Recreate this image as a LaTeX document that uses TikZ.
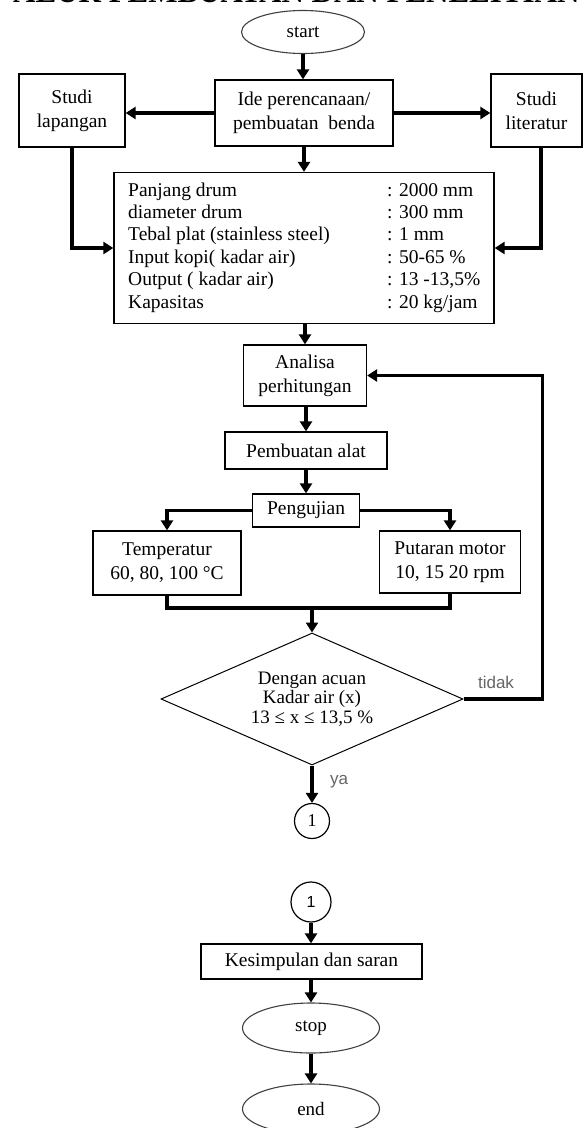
\documentclass[tikz,border=0pt]{standalone}
\usepackage{fontspec}
\setmainfont{Liberation Serif}
\newfontfamily\sansf{Liberation Sans}
\usetikzlibrary{arrows.meta,shapes.geometric,calc}
\begin{document}
\begin{tikzpicture}[x=1pt,y=-1pt,
  box/.style={draw=black,line width=1.3pt,rectangle,inner sep=0pt,align=center,font=\fontsize{19.5}{24}\selectfont},
  oval/.style={draw=black!75,line width=1.1pt,ellipse,inner sep=0pt,font=\fontsize{19}{22}\selectfont},
  conn/.style={draw=black,line width=1.2pt,circle,inner sep=0pt,font=\fontsize{18}{20}\selectfont},
  arr/.style={line width=3.2pt,-{Triangle[length=10pt,width=12pt]}},
  ln/.style={line width=3.2pt},
  lbl/.style={font=\sansf\fontsize{17}{20}\selectfont,text=black!60,inner sep=0pt}]
\useasboundingbox (0,0) rectangle (584,1128);
\clip (0,0) rectangle (584,1128);
\fill[white] (0,0) rectangle (584,1128);
\node[anchor=base west,inner sep=0pt,font=\bfseries\fontsize{31}{31}\selectfont] (title) at (13,2.5) {ALUR PEMBUATAN DAN PENELITIAN};

\node[oval,minimum width=123pt,minimum height=43pt] (start) at (303,32) {start};
\node[box,minimum width=178pt,minimum height=66pt] (ide) at (304,113) {Ide perencanaan/\\pembuatan\ \ benda};
\node[box,minimum width=106pt,minimum height=73pt] (lap) at (72,110.5) {Studi\\lapangan};
\node[box,minimum width=91pt,minimum height=73pt] (lit) at (536.5,110.5) {Studi\\literatur};
\node[box,minimum width=380pt,minimum height=151pt] (par) at (304,248) {};
\node[anchor=base west,inner sep=0pt,font=\fontsize{19.5}{22.4}\selectfont] (ptext) at (128,196)
 {\begin{tabular}[t]{@{}p{259pt}@{}l@{}}
 Panjang drum & : 2000 mm\\
 diameter drum & : 300 mm\\
 Tebal plat (stainless steel) & : 1 mm\\
 Input kopi( kadar air) & : 50-65 \%\\
 Output ( kadar air) & : 13 -13,5\%\\
 Kapasitas & : 20 kg/jam
 \end{tabular}};
\node[box,minimum width=123pt,minimum height=61pt] (ana) at (305,375.5) {Analisa\\perhitungan};
\node[box,minimum width=162pt,minimum height=37pt] (pem) at (306,450.5) {Pembuatan alat};
\node[box,minimum width=107pt,minimum height=33pt] (pen) at (306,510.5) {Pengujian};
\node[box,minimum width=148pt,minimum height=64pt] (tem) at (167,563) {Temperatur\\60, 80, 100 °C};
\node[box,minimum width=141pt,minimum height=62pt] (put) at (450,562) {Putaran motor\\10, 15 20 rpm};
\node[draw=black,line width=1pt,diamond,aspect=2.29,minimum width=302pt,minimum height=132pt,inner sep=0pt,align=center,font=\fontsize{19}{19.5}\selectfont] (dia) at (312,699) {Dengan acuan\\Kadar air (x)\\13 ≤ x ≤ 13,5 \%};
\node[lbl] (tidak) at (496,682) {tidak};
\node[lbl] (ya) at (339,782) {ya};
\node[conn,minimum size=35pt] (c1) at (312,821) {1};
\node[conn,minimum size=40pt,font=\sansf\fontsize{16}{18}\selectfont] (c2) at (311,902) {1};
\node[box,minimum width=221pt,minimum height=35pt] (kes) at (311.5,961.5) {Kesimpulan dan saran};
\node[oval,minimum width=137pt,minimum height=50pt] (stop) at (311,1028) {stop};
\node[oval,minimum width=137pt,minimum height=50pt] (end) at (311,1109) {end};

\draw[arr] (start.south) -- (start.south |- ide.north);
\draw[arr] (ide.west) -- (lap.east |- ide.west);
\draw[arr] (ide.east) -- (lit.west |- ide.east);
\draw[arr] (ide.south) -- (ide.south |- par.north);
\draw[arr] (lap.south) |- (par.west);
\draw[arr] ([xshift=4.5pt]lit.south) |- (par.east);
\draw[arr] (par.south -| ana.north) -- (ana.north);
\draw[arr] (ana.south -| pem.north) -- (pem.north);
\draw[arr] (pem.south) -- (pen.north);
\draw[arr] (pen.west) -| (tem.north);
\draw[arr] (pen.east) -| (put.north);
\coordinate (j) at (312,608);
\draw[ln] (tem.south) |- (j) -| (put.south);
\draw[arr] (j) -- (dia.north);
\draw[arr] (dia.east) -- ++(79,0) |- (ana.east);
\draw[arr] (dia.south) -- (c1.north);
\draw[arr] (c2.south) -- (kes.north -| c2.south);
\draw[arr] (kes.south -| stop.north) -- (stop.north);
\draw[arr] (stop.south) -- (end.north);
\end{tikzpicture}
\end{document}
